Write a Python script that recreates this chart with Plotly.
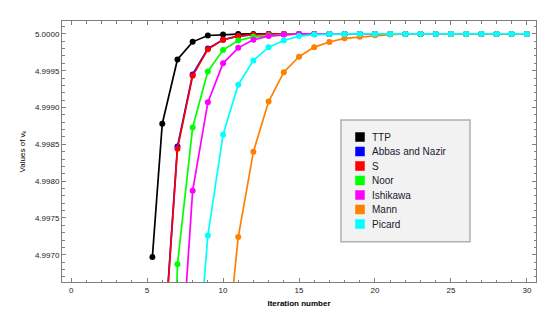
import plotly.graph_objects as go

# ---- data ----
names = ["TTP", "Abbas and Nazir", "S", "Noor", "Ishikawa", "Mann", "Picard"]
colors = ["#000000", "#0000ff", "#ff0000", "#00ff00", "#ff00ff", "#ff8000", "#00ffff"]

ttp_x = [5.35, 6, 7, 8, 9, 10, 11, 12, 13, 14, 15, 16, 17, 18, 19, 20, 21, 22, 23, 24, 25, 26, 27, 28, 29, 30]
ttp_y = [4.99697, 4.99878, 4.999653, 4.999892, 4.999978, 4.999992, 4.999998,
         5.0, 5.0, 5.0, 5.0, 5.0, 5.0, 5.0, 5.0, 5.0, 5.0, 5.0, 5.0, 5.0, 5.0, 5.0, 5.0, 5.0, 5.0, 5.0]

abbas_x = [6, 7, 8, 9, 10, 11, 12, 13, 14, 15, 16, 17, 18, 19, 20, 21, 22, 23, 24, 25, 26, 27, 28, 29, 30]
abbas_y = [4.99546, 4.99847, 4.99945, 4.99980, 4.99992, 4.99997, 4.99999,
           5.0, 5.0, 5.0, 5.0, 5.0, 5.0, 5.0, 5.0, 5.0, 5.0, 5.0, 5.0, 5.0, 5.0, 5.0, 5.0, 5.0, 5.0]

s_x = [6, 7, 8, 9, 10, 11, 12, 13, 14, 15, 16, 17, 18, 19, 20, 21, 22, 23, 24, 25, 26, 27, 28, 29, 30]
s_y = [4.99542, 4.99844, 4.99943, 4.99979, 4.99992, 4.99997, 4.99999,
       5.0, 5.0, 5.0, 5.0, 5.0, 5.0, 5.0, 5.0, 5.0, 5.0, 5.0, 5.0, 5.0, 5.0, 5.0, 5.0, 5.0, 5.0]

noor_x = [6, 7, 8, 9, 10, 11, 12, 13, 14, 15, 16, 17, 18, 19, 20, 21, 22, 23, 24, 25, 26, 27, 28, 29, 30]
noor_y = [4.99000, 4.99687, 4.99873, 4.99949, 4.99978, 4.99991, 4.99996, 4.99998, 4.99999,
          5.0, 5.0, 5.0, 5.0, 5.0, 5.0, 5.0, 5.0, 5.0, 5.0, 5.0, 5.0, 5.0, 5.0, 5.0, 5.0]

ishi_x = [7, 8, 9, 10, 11, 12, 13, 14, 15, 16, 17, 18, 19, 20, 21, 22, 23, 24, 25, 26, 27, 28, 29, 30]
ishi_y = [4.99477, 4.99787, 4.99907, 4.99960, 4.99981, 4.99992, 4.99997, 4.99999,
          5.0, 5.0, 5.0, 5.0, 5.0, 5.0, 5.0, 5.0, 5.0, 5.0, 5.0, 5.0, 5.0, 5.0, 5.0, 5.0]

mann_x = [10, 11, 12, 13, 14, 15, 16, 17, 18, 19, 20, 21, 22, 23, 24, 25, 26, 27, 28, 29, 30]
mann_y = [4.99521, 4.99724, 4.99840, 4.99908, 4.99948, 4.99969, 4.99982, 4.99989, 4.99994,
          4.99996, 4.99998, 4.99999, 5.0, 5.0, 5.0, 5.0, 5.0, 5.0, 5.0, 5.0, 5.0]

picard_x = [8, 9, 10, 11, 12, 13, 14, 15, 16, 17, 18, 19, 20, 21, 22, 23, 24, 25, 26, 27, 28, 29, 30]
picard_y = [4.99474, 4.99726, 4.99863, 4.99931, 4.99964, 4.99982, 4.99991, 4.99997, 4.99999,
            5.0, 5.0, 5.0, 5.0, 5.0, 5.0, 5.0, 5.0, 5.0, 5.0, 5.0, 5.0, 5.0, 5.0]

x_tick_vals = [0, 5, 10, 15, 20, 25, 30]
y_tick_vals = [4.9970, 4.9975, 4.9980, 4.9985, 4.9990, 4.9995, 5.0000]

series = [(ttp_x, ttp_y), (abbas_x, abbas_y), (s_x, s_y), (noor_x, noor_y),
          (ishi_x, ishi_y), (mann_x, mann_y), (picard_x, picard_y)]

FONT = "Liberation Sans, Arial, sans-serif"
W, H = 556, 309
ML, MR, MT, MB = 62, 20, 21, 27
PW, PH = W - ML - MR, H - MT - MB


def px_x(px):
    return (px - ML) / PW


def px_y(py):
    return (H - MB - py) / PH


fig = go.Figure()
for (xs, ys), name, col in zip(series, names, colors):
    fig.add_trace(go.Scatter(
        x=xs, y=ys, mode="lines+markers", name=name, showlegend=False,
        line=dict(color=col, width=1.7),
        marker=dict(color=col, size=6, line=dict(width=0)),
    ))

axis_common = dict(
    showline=True, linecolor="#7f7f7f", linewidth=1, mirror="ticks",
    ticks="inside", tickcolor="#7f7f7f", ticklen=4, tickwidth=1,
    showgrid=False, zeroline=False, automargin=False,
    tickfont=dict(family=FONT, size=8, color="#222222"),
)

fig.update_xaxes(
    range=[-0.6, 30.6], tickvals=x_tick_vals,
    minor=dict(ticks="inside", dtick=1, ticklen=2.5, tickcolor="#7f7f7f", showgrid=False),
    title=dict(text="<b>Iteration number</b>", font=dict(family=FONT, size=8, color="#000000"), standoff=6),
    **axis_common,
)
fig.update_yaxes(
    range=[4.99663, 5.000175], tickvals=y_tick_vals, tickformat=".4f",
    minor=dict(ticks="inside", dtick=0.0001, ticklen=2.5, tickcolor="#7f7f7f", showgrid=False),
    title=dict(text="Values of v<sub>k</sub>", font=dict(family=FONT, size=8, color="#000000"), standoff=8),
    **axis_common,
)

# legend box, drawn as a framed panel with square swatches and text labels
fig.add_shape(type="rect", xref="paper", yref="paper",
              x0=px_x(341), x1=px_x(470), y0=px_y(241.7), y1=px_y(120),
              fillcolor="#f2f2f2", line=dict(color="#b0b0b0", width=1.5), layer="above")
row0, row_step, sw = 137.0, 14.5, 9.5
for i, (name, col) in enumerate(zip(names, colors)):
    cy = row0 + i * row_step
    fig.add_shape(type="rect", xref="paper", yref="paper",
                  x0=px_x(360 - sw / 2), x1=px_x(360 + sw / 2),
                  y0=px_y(cy + sw / 2), y1=px_y(cy - sw / 2),
                  fillcolor=col, line=dict(width=0), layer="above")
    fig.add_annotation(xref="paper", yref="paper", x=px_x(370), y=px_y(cy),
                       text=name, showarrow=False, xanchor="left", yanchor="middle",
                       font=dict(family=FONT, size=10, color="#1a1a2e"))

fig.update_layout(
    width=W, height=H,
    margin=dict(l=ML, r=MR, t=MT, b=MB),
    plot_bgcolor="white", paper_bgcolor="white",
    font=dict(family=FONT),
    showlegend=False,
)

fig.write_html("out.html", config={"displayModeBar": False},
               post_script="document.body.style.margin='0';document.body.style.overflow='hidden';")
